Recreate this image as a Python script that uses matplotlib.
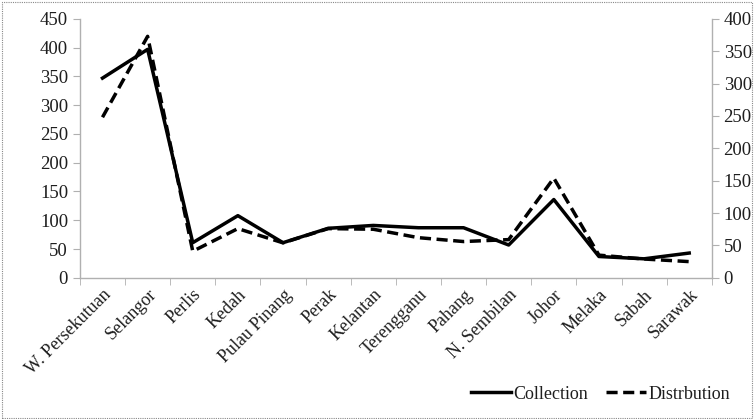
import matplotlib
matplotlib.use("Agg")
import matplotlib.pyplot as plt
from matplotlib.patches import Rectangle
import numpy as np

states = ["W. Persekutuan", "Selangor", "Perlis", "Kedah", "Pulau Pinang", "Perak",
          "Kelantan", "Terengganu", "Pahang", "N. Sembilan", "Johor", "Melaka",
          "Sabah", "Sarawak"]
collection = [347, 397, 61, 108, 61, 86, 91, 87, 87, 57, 136, 37, 33, 43]
distribution = [248, 373, 41, 76, 54, 76, 75, 62, 56, 59, 154, 35, 29, 25]
left_ticks = [0, 50, 100, 150, 200, 250, 300, 350, 400, 450]
right_ticks = [0, 50, 100, 150, 200, 250, 300, 350, 400]

plt.rcParams['font.family'] = ['Liberation Serif', 'DejaVu Serif']
txt = '#1e1e1e'
spine_c = '#b0b0b0'

fig = plt.figure(figsize=(7.54, 4.19), dpi=100)
ax = fig.add_axes([0.106, 0.337, 0.838, 0.618])
ax2 = ax.twinx()

x = np.arange(len(states))
l1, = ax.plot(x, collection, color='black', lw=2.5, label='Collection')
l2, = ax2.plot(x, distribution, color='black', lw=2.5, ls=(0, (3.2, 1.6)), label='Distrbution')

ax.set_xlim(-0.5, len(states) - 0.5)
ax.set_ylim(0, 450)
ax2.set_ylim(0, 400)
ax.set_yticks(left_ticks)
ax2.set_yticks(right_ticks)
ax.set_xticks(x)
ax.set_xticklabels(states, rotation=45, ha='right', rotation_mode='anchor',
                   fontsize=13, color=txt)
ax.set_xticks(np.arange(len(states) + 1) - 0.5, minor=True)
ax.tick_params(axis='x', which='major', length=0, pad=6)
ax.tick_params(axis='x', which='minor', length=5, color=spine_c, direction='out')
ax.tick_params(axis='y', labelsize=13.5, labelcolor=txt, length=5, color=spine_c)
ax2.tick_params(axis='y', labelsize=13.5, labelcolor=txt, length=5, color=spine_c)

for a in (ax, ax2):
    a.spines['top'].set_visible(False)
    for s in ('left', 'right', 'bottom'):
        a.spines[s].set_color(spine_c)
        a.spines[s].set_linewidth(1.0)
ax.spines['right'].set_visible(False)
ax2.spines['left'].set_visible(False)
ax2.spines['bottom'].set_visible(False)

fig.legend(handles=[l1, l2], loc='lower right', bbox_to_anchor=(0.99, 0.0),
           ncol=2, frameon=False, fontsize=13, handlelength=2.2,
           handletextpad=0.15, columnspacing=1.0, labelcolor=txt)

fig.patches.append(Rectangle((0.003, 0.003), 0.994, 0.992, transform=fig.transFigure,
                             fill=False, edgecolor='#888888', lw=0.8, ls=(0, (1, 1))))

fig.savefig('out.png', dpi=100)
